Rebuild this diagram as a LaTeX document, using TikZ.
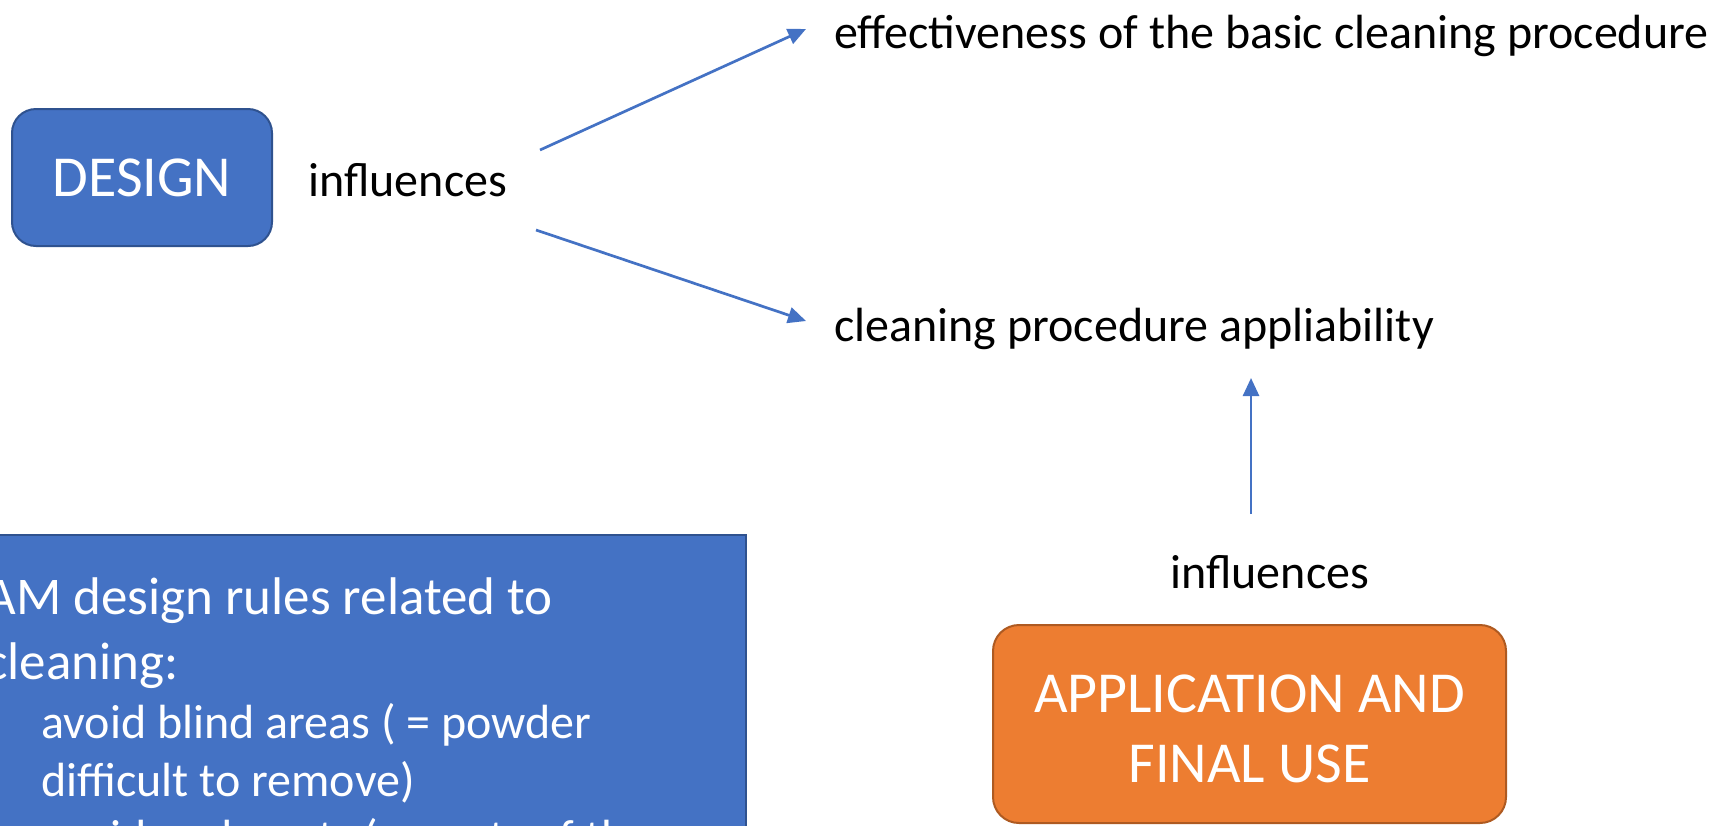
\documentclass[tikz,border=0pt]{standalone}
\usepackage{fontspec}
\setmainfont{Carlito}
\usetikzlibrary{arrows.meta}
\definecolor{officeblue}{HTML}{4472C4}
\definecolor{officeblueline}{HTML}{2F528F}
\definecolor{officeorange}{HTML}{ED7D31}
\definecolor{officeorangeline}{HTML}{AE5A21}

\begin{document}
\begin{tikzpicture}[x=0.5pt,y=-0.5pt,
  main box/.style={draw=officeblueline,fill=officeblue,line width=1pt,text=white,
    font=\fontsize{29}{35}\selectfont,align=center,rounded corners=12pt},
  plain text/.style={inner sep=0pt,anchor=base west,font=\fontsize{24}{29}\selectfont},
  rule text/.style={inner sep=0pt,anchor=base west,text=white},
  flow/.style={draw=officeblue,line width=1.35pt,-{Triangle[length=9pt,width=8pt]}}]

  \useasboundingbox (0,0) rectangle (1727,825);
  \clip (0,0) rectangle (1727,825);

  \node[main box,minimum width=130pt,minimum height=68.5pt] (design) at (142,177.5) {\raisebox{-1.7pt}{DESIGN}};
  \node[main box,draw=officeorangeline,fill=officeorange,rounded corners=13pt,
    minimum width=256.5pt,minimum height=99pt] (use) at (1249.5,724) {};
  \node[main box,draw=none,fill=none] (usetext) at (1249.5,729) {APPLICATION AND\\FINAL USE};
  \node[main box,rounded corners=0pt,anchor=north east,minimum width=400pt,
    minimum height=200pt] (rules) at (747,534) {};

  \node[plain text] (infl1) at (308,196) {influences};
  \node[plain text] (effect) at (834,48) {effectiveness of the basic cleaning procedure};
  \node[plain text] (appl) at (834,341) {cleaning procedure appliability};
  \node[plain text] (infl2) at (1170,588) {influences};

  \node[rule text,font=\fontsize{26.5}{32}\selectfont] (r1) at (-15,614) {AM design rules related to};
  \node[rule text,font=\fontsize{26.5}{32}\selectfont] (r2) at (-15,679) {cleaning:};
  \node[rule text,font=\fontsize{24}{29}\selectfont] (r3) at (41,738) {avoid blind areas ( = powder};
  \node[rule text,font=\fontsize{24}{29}\selectfont] (r4) at (41,796) {difficult to remove)};
  \node[rule text,font=\fontsize{24}{29}\selectfont] (r5) at (41,853) {avoid undercuts ( = parts of the};

  \coordinate (s1) at (540,150);
  \coordinate (e1) at (806,29);
  \coordinate (s2) at (536,230);
  \coordinate (e2) at (806,321);
  \coordinate (s3) at (1251,514);
  \coordinate (e3) at (1251,378);

  \path[every edge/.style={flow}]
    (s1) edge (e1)
    (s2) edge (e2)
    (s3) edge (e3);
\end{tikzpicture}
\end{document}
